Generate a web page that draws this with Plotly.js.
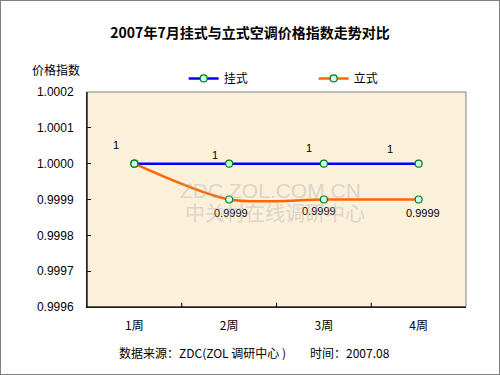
<!DOCTYPE html>
<html><head><meta charset="utf-8">
<script src="https://cdn.plot.ly/plotly-3.0.1.min.js"></script>
<style>body{margin:0;}#c{width:500px;height:375px;}</style>
</head><body><div id="c"></div>
<script>
var categories = ['1周','2周','3周','4周'];
var guaShi = [1, 1, 1, 1];
var liShi = [1, 0.9999, 0.9999, 0.9999];
var guaLabels = ['1','1','1','1'];
var liLabels = ['', '0.9999', '0.9999', '0.9999'];
var yTicks = [0.9996, 0.9997, 0.9998, 0.9999, 1.0000, 1.0001, 1.0002];
var yTickText = ['0.9996','0.9997','0.9998','0.9999','1.0000','1.0001','1.0002'];

var font = 'Liberation Sans, Arial, Noto Sans CJK SC, sans-serif';
var cjk = 'Noto Sans CJK SC, sans-serif';
var marker = {symbol:'circle', size:7, color:'#CCFFFF', line:{color:'#008000', width:1.2}};

var traces = [
  {x:categories, y:guaShi, name:'挂式', legend:'legend', mode:'lines+markers', line:{color:'#0000FF', width:2.5}, marker:marker},
  {x:categories, y:liShi, name:'立式', legend:'legend2', mode:'lines+markers', line:{color:'#FF6600', width:2.5, shape:'spline', smoothing:0.8}, marker:marker}
];

var ann = [];
var guaShift = [[-18,19],[-14,9],[-15,16],[-29,15]];
var liShift = [[0,0],[2,-13],[-5,-11],[4,-13]];
for (var i=0;i<categories.length;i++){
  ann.push({x:categories[i], y:guaShi[i], text:guaLabels[i], showarrow:false, xshift:guaShift[i][0], yshift:guaShift[i][1], font:{size:11,color:'#000',family:font}});
  if (liLabels[i]) ann.push({x:categories[i], y:liShi[i], text:liLabels[i], showarrow:false, xshift:liShift[i][0], yshift:liShift[i][1], font:{size:11,color:'#000',family:font}});
}
ann.push({xref:'paper', yref:'paper', x:0.485, y:0.54, text:'ZDC.ZOL.COM.CN', showarrow:false, font:{size:21,color:'rgba(170,170,170,0.4)',family:font}});
ann.push({xref:'paper', yref:'paper', x:0.495, y:0.44, text:'中关村在线调研中心', showarrow:false, font:{size:20,color:'rgba(170,170,170,0.4)',family:cjk}});
ann.push({xref:'paper', yref:'paper', x:-0.083, y:1.103, xanchor:'center', yanchor:'middle', text:'价格指数', showarrow:false, font:{size:12,color:'#000',family:cjk}});
ann.push({xref:'paper', yref:'paper', x:0.08, y:-0.21, xanchor:'left', yanchor:'middle', text:'数据来源：ZDC(ZOL 调研中心 )', showarrow:false, font:{size:12,color:'#000',family:cjk}});
ann.push({xref:'paper', yref:'paper', x:0.583, y:-0.21, xanchor:'left', yanchor:'middle', text:'时间：2007.08', showarrow:false, font:{size:12,color:'#000',family:cjk}});

var legFont = {size:12,family:cjk,color:'#000'};
var layout = {
  width:500, height:375,
  margin:{l:87, r:34, t:92, b:68},
  paper_bgcolor:'#FFFFFF',
  plot_bgcolor:'#FBF0DA',
  title:{text:'<b>2007年7月挂式与立式空调价格指数走势对比</b>', x:0.5, xanchor:'center', y:0.912, yanchor:'middle', font:{size:14,color:'#000',family:cjk}},
  showlegend:true,
  legend:{orientation:'h', x:0.255, xanchor:'left', y:1.063, yanchor:'middle', font:legFont, bgcolor:'rgba(0,0,0,0)', itemwidth:30},
  legend2:{orientation:'h', x:0.598, xanchor:'left', y:1.063, yanchor:'middle', font:legFont, bgcolor:'rgba(0,0,0,0)', itemwidth:30},
  xaxis:{type:'category', range:[-0.5,3.5], showgrid:false, zeroline:false, showline:true, linecolor:'#000', linewidth:1,
    ticks:'', tickfont:{size:12,family:cjk,color:'#000'}, ticklabelstandoff:8, fixedrange:true},
  yaxis:{range:[0.9996,1.0002], tickvals:yTicks, ticktext:yTickText, showgrid:false, zeroline:false, showline:true, linecolor:'#000', linewidth:1,
    ticks:'inside', ticklen:4, tickcolor:'#000', tickfont:{size:12,family:font,color:'#000'}, ticklabelstandoff:10},
  annotations:ann,
  shapes:[
    {type:'rect', xref:'paper', yref:'paper', x0:0, x1:1, y0:0, y1:1, line:{color:'#808080', width:1}},
    {type:'rect', xref:'paper', yref:'paper', x0:-87/379, x1:1+34/379, y0:-68/215, y1:1+92/215, line:{color:'#808080', width:2}},
    {type:'line', xref:'x', yref:'paper', x0:0.5, x1:0.5, y0:0, y1:0.02, line:{color:'#000',width:1}},
    {type:'line', xref:'x', yref:'paper', x0:1.5, x1:1.5, y0:0, y1:0.02, line:{color:'#000',width:1}},
    {type:'line', xref:'x', yref:'paper', x0:2.5, x1:2.5, y0:0, y1:0.02, line:{color:'#000',width:1}},
    {type:'line', xref:'paper', yref:'paper', x0:0, x1:0, y0:0, y1:1, line:{color:'#000',width:1}},
    {type:'line', xref:'paper', yref:'paper', x0:0, x1:1, y0:0, y1:0, line:{color:'#000',width:1}}
  ]
};
Plotly.newPlot('c', traces, layout, {displayModeBar:false, staticPlot:true});
</script></body></html>
